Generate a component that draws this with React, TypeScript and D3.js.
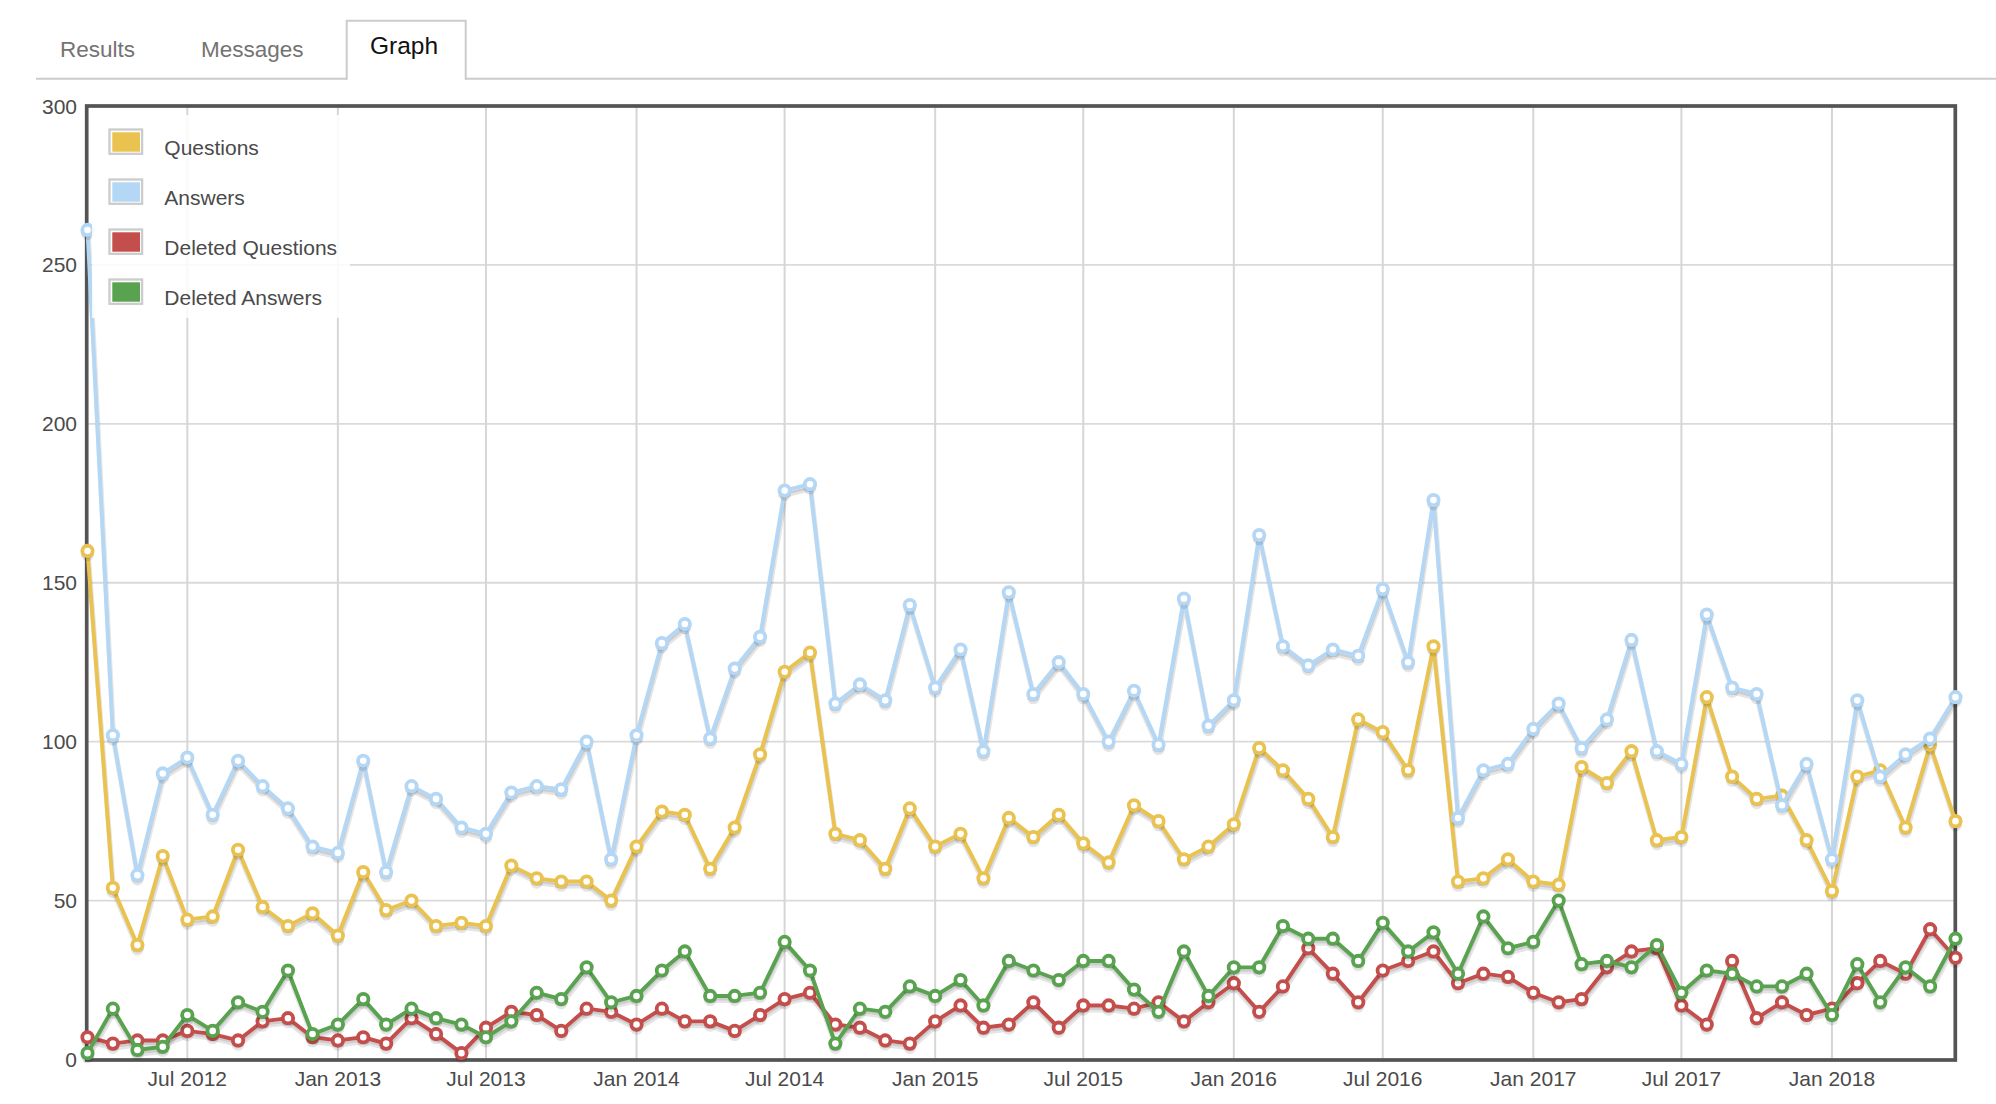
import React from "react";
import * as d3 from "d3";

const MONTHS = [
  "2012-03", "2012-04", "2012-05", "2012-06", "2012-07", "2012-08", "2012-09", "2012-10", "2012-11", "2012-12",
  "2013-01", "2013-02", "2013-03", "2013-04", "2013-05", "2013-06", "2013-07", "2013-08", "2013-09", "2013-10", "2013-11", "2013-12",
  "2014-01", "2014-02", "2014-03", "2014-04", "2014-05", "2014-06", "2014-07", "2014-08", "2014-09", "2014-10", "2014-11", "2014-12",
  "2015-01", "2015-02", "2015-03", "2015-04", "2015-05", "2015-06", "2015-07", "2015-08", "2015-09", "2015-10", "2015-11", "2015-12",
  "2016-01", "2016-02", "2016-03", "2016-04", "2016-05", "2016-06", "2016-07", "2016-08", "2016-09", "2016-10", "2016-11", "2016-12",
  "2017-01", "2017-02", "2017-03", "2017-04", "2017-05", "2017-06", "2017-07", "2017-08", "2017-09", "2017-10", "2017-11", "2017-12",
  "2018-01", "2018-02", "2018-03", "2018-04", "2018-05", "2018-06",
];

const QUESTIONS = [
  160, 54, 36, 64, 44, 45, 66, 48, 42, 46,
  39, 59, 47, 50, 42, 43, 42, 61, 57, 56, 56, 50,
  67, 78, 77, 60, 73, 96, 122, 128, 71, 69, 60, 79,
  67, 71, 57, 76, 70, 77, 68, 62, 80, 75, 63, 67,
  74, 98, 91, 82, 70, 107, 103, 91, 130, 56, 57, 63,
  56, 55, 92, 87, 97, 69, 70, 114, 89, 82, 83, 69,
  53, 89, 91, 73, 99, 75,
];

const ANSWERS = [
  261, 102, 58, 90, 95, 77, 94, 86, 79, 67,
  65, 94, 59, 86, 82, 73, 71, 84, 86, 85, 100, 63,
  102, 131, 137, 101, 123, 133, 179, 181, 112, 118, 113, 143,
  117, 129, 97, 147, 115, 125, 115, 100, 116, 99, 145, 105,
  113, 165, 130, 124, 129, 127, 148, 125, 176, 76, 91, 93,
  104, 112, 98, 107, 132, 97, 93, 140, 117, 115, 80, 93,
  63, 113, 89, 96, 101, 114,
];

const DELETED_QUESTIONS = [
  7, 5, 6, 6, 9, 8, 6, 12, 13, 7,
  6, 7, 5, 13, 8, 2, 10, 15, 14, 9, 16, 15,
  11, 16, 12, 12, 9, 14, 19, 21, 11, 10, 6, 5,
  12, 17, 10, 11, 18, 10, 17, 17, 16, 18, 12, 18,
  24, 15, 23, 35, 27, 18, 28, 31, 34, 24, 27, 26,
  21, 18, 19, 29, 34, 35, 17, 11, 31, 13, 18, 14,
  16, 24, 31, 27, 41, 32,
];

const DELETED_ANSWERS = [
  2, 16, 3, 4, 14, 9, 18, 15, 28, 8,
  11, 19, 11, 16, 13, 11, 7, 12, 21, 19, 29, 18,
  20, 28, 34, 20, 20, 21, 37, 28, 5, 16, 15, 23,
  20, 25, 17, 31, 28, 25, 31, 31, 22, 15, 34, 20,
  29, 29, 42, 38, 38, 31, 43, 34, 40, 27, 45, 35,
  37, 50, 30, 31, 29, 36, 21, 28, 27, 23, 23, 27,
  14, 30, 18, 29, 23, 38,
];

const SERIES_NAMES = ["Questions", "Answers", "Deleted Questions", "Deleted Answers"];
const SERIES_COLORS = ["#e9c250", "#b4d7f5", "#c44e4b", "#59a250"];

const Y_TICKS = [0, 50, 100, 150, 200, 250, 300];
const X_TICK_DATES = [
  "2012-07", "2013-01", "2013-07", "2014-01", "2014-07", "2015-01",
  "2015-07", "2016-01", "2016-07", "2017-01", "2017-07", "2018-01",
];
const X_TICK_LABELS = [
  "Jul 2012", "Jan 2013", "Jul 2013", "Jan 2014", "Jul 2014", "Jan 2015",
  "Jul 2015", "Jan 2016", "Jul 2016", "Jan 2017", "Jul 2017", "Jan 2018",
];
const TABS = ["Results", "Messages", "Graph"];

const FONT = "'Liberation Sans', Arial, Helvetica, sans-serif";

function parseMonth(s: string): Date {
  const [yy, mm] = s.split("-").map(Number);
  return new Date(Date.UTC(yy, mm - 1, 1));
}

export default function App() {
  const W = 1996;
  const H = 1104;
  const dates = MONTHS.map(parseMonth);
  const seriesValues = [QUESTIONS, ANSWERS, DELETED_QUESTIONS, DELETED_ANSWERS];

  const plotLeft = 86.7;
  const plotRight = 1955.3;
  const plotTop = 106;
  const plotBottom = 1060;

  const x = d3
    .scaleUtc()
    .domain([dates[0], dates[dates.length - 1]])
    .range([87.5, 1955.5]);
  const y = d3.scaleLinear().domain([0, 300]).range([1059.5, 106]);

  const lw = 3.9;
  const sw = 5.1;
  const r = 5.2;
  const ang = Math.PI / 18;

  const mkLine = (dx: number, dy: number) =>
    d3
      .line<[Date, number]>()
      .x((d) => x(d[0]) + dx)
      .y((d) => y(d[1]) + dy);

  const shadow1 = mkLine(Math.sin(ang) * (lw / 2 + sw / 2), Math.cos(ang) * (lw / 2 + sw / 2));
  const shadow2 = mkLine(Math.sin(ang) * (lw / 2 + sw / 4), Math.cos(ang) * (lw / 2 + sw / 4));
  const mainLine = mkLine(0, 0);

  const halfArc = (cx: number, cy: number) =>
    `M${cx + r},${cy} A${r},${r} 0 0 1 ${cx - r},${cy}`;

  const tabY = 78.7;
  const tabBoxL = 346.7;
  const tabBoxR = 465.7;
  const tabBoxT = 20.7;

  return (
    <div style={{ position: "absolute", left: 0, top: 0, width: W, height: H, background: "#fff" }}>
      <svg width={W} height={H} style={{ display: "block", fontFamily: FONT }}>
        <rect x={0} y={0} width={W} height={H} fill="#fff" />
        {/* Tabs */}
        <line x1={36} x2={tabBoxL} y1={tabY} y2={tabY} stroke="#cccccc" strokeWidth={2} />
        <line x1={tabBoxR} x2={W} y1={tabY} y2={tabY} stroke="#cccccc" strokeWidth={2} />
        <path
          d={`M${tabBoxL},${tabY + 1} L${tabBoxL},${tabBoxT} L${tabBoxR},${tabBoxT} L${tabBoxR},${tabY + 1}`}
          fill="none"
          stroke="#cccccc"
          strokeWidth={2}
        />
        <text x={60} y={57.3} fontSize={22.5} fill="#737373">{TABS[0]}</text>
        <text x={201} y={57.3} fontSize={22.5} fill="#737373">{TABS[1]}</text>
        <text x={370} y={54} fontSize={24.5} fill="#111111">{TABS[2]}</text>

        {/* Grid */}
        <g>
          {Y_TICKS.map((t) => (
            <line
              key={"gy" + t}
              x1={plotLeft}
              x2={plotRight}
              y1={y(t)}
              y2={y(t)}
              stroke="#dadada"
              strokeWidth={1.8}
            />
          ))}
          {X_TICK_DATES.map((d) => (
            <line
              key={"gx" + d}
              x1={x(parseMonth(d))}
              x2={x(parseMonth(d))}
              y1={plotTop}
              y2={plotBottom}
              stroke="#d6d6d6"
              strokeWidth={2}
            />
          ))}
        </g>
        {/* Border */}
        <rect
          x={plotLeft}
          y={plotTop}
          width={plotRight - plotLeft}
          height={plotBottom - plotTop}
          fill="none"
          stroke="#545454"
          strokeWidth={3.7}
        />
        {/* Tick labels */}
        {Y_TICKS.map((t) => (
          <text
            key={"ly" + t}
            x={77}
            y={y(t)}
            dy="0.36em"
            textAnchor="end"
            fontSize={21}
            fill="#4a4a4a"
          >
            {t}
          </text>
        ))}
        {X_TICK_DATES.map((d, i) => (
          <text
            key={"lx" + d}
            x={x(parseMonth(d))}
            y={1086}
            textAnchor="middle"
            fontSize={21}
            fill="#4a4a4a"
          >
            {X_TICK_LABELS[i]}
          </text>
        ))}

        {/* Series */}
        {seriesValues.map((vals, si) => {
          const data: [Date, number][] = vals.map((v, i) => [dates[i], v]);
          const color = SERIES_COLORS[si];
          return (
            <g key={"s" + si}>
              <path d={shadow1(data) || ""} fill="none" stroke="rgba(0,0,0,0.1)" strokeWidth={sw} strokeLinejoin="round" />
              <path d={shadow2(data) || ""} fill="none" stroke="rgba(0,0,0,0.1)" strokeWidth={sw / 2} strokeLinejoin="round" />
              <path d={mainLine(data) || ""} fill="none" stroke={color} strokeWidth={lw} strokeLinejoin="round" />
              {data.map((d, i) => (
                <path
                  key={"ps1" + i}
                  d={halfArc(x(d[0]), y(d[1]) + (sw / 2) * 1.5)}
                  fill="none"
                  stroke="rgba(0,0,0,0.1)"
                  strokeWidth={sw / 2}
                />
              ))}
              {data.map((d, i) => (
                <path
                  key={"ps2" + i}
                  d={halfArc(x(d[0]), y(d[1]) + sw / 4)}
                  fill="none"
                  stroke="rgba(0,0,0,0.2)"
                  strokeWidth={sw / 2}
                />
              ))}
              {data.map((d, i) => (
                <circle
                  key={"p" + i}
                  cx={x(d[0])}
                  cy={y(d[1])}
                  r={r}
                  fill="#ffffff"
                  stroke={color}
                  strokeWidth={3.8}
                />
              ))}
            </g>
          );
        })}

        {/* Legend */}
        <rect x={92} y={115} width={258} height={203} fill="#ffffff" opacity={0.85} />
        {SERIES_NAMES.map((name, i) => {
          const oy = 128.3 + 50 * i;
          return (
            <g key={"lg" + i}>
              <rect x={109.5} y={oy + 1.2} width={32.6} height={24.3} fill="#ffffff" stroke="#cccccc" strokeWidth={2.3} />
              <rect x={112.3} y={oy + 4} width={27.7} height={19.4} fill={SERIES_COLORS[i]} />
              <text x={164.3} y={155 + 50 * i} fontSize={21} fill="#4a4a4a">
                {name}
              </text>
            </g>
          );
        })}
      </svg>
    </div>
  );
}
